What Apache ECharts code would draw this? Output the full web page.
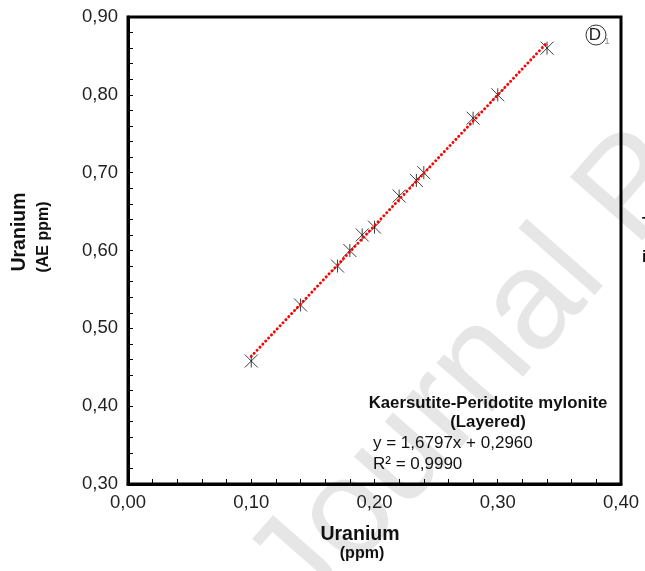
<!DOCTYPE html>
<html>
<head>
<meta charset="utf-8">
<script src="https://cdn.jsdelivr.net/npm/echarts@6/dist/echarts.min.js"></script>
<style>
  html, body { margin: 0; padding: 0; background: #fff; }
  #chart { width: 645px; height: 571px; }
</style>
</head>
<body>
<div id="chart"></div>
<script>
// Uranium: conventional ppm (x) against AE ppm (y)
const uraniumPpm   = [0.10, 0.14, 0.17, 0.18, 0.19, 0.20, 0.22, 0.234, 0.24, 0.28, 0.30, 0.34];
const uraniumAePpm = [0.458, 0.53, 0.58, 0.60, 0.62, 0.63, 0.67, 0.69, 0.70, 0.77, 0.80, 0.86];

// Linear fit reported on the chart
const fitSlope = 1.6797;
const fitIntercept = 0.2960;
const fitR2 = 0.9990;

const xTicks = [0.00, 0.10, 0.20, 0.30, 0.40];
const yTicks = [0.30, 0.40, 0.50, 0.60, 0.70, 0.80, 0.90];

const FONT = 'Arial, "Liberation Sans", sans-serif';
const comma = v => v.toFixed(2).replace('.', ',');
const commaN = (v, d) => v.toFixed(d).replace('.', ',');

const points = uraniumPpm.map((x, i) => [x, uraniumAePpm[i]]);
const xMin = Math.min(...uraniumPpm), xMax = Math.max(...uraniumPpm);
const fitLine = [[xMin, fitSlope * xMin + fitIntercept], [xMax, fitSlope * xMax + fitIntercept]];

// asterisk-like marker: an X crossed by a vertical stroke
const starMarker = 'path://M0,0L10,10M10,0L0,10M5,0L5,10';

const chart = echarts.init(document.getElementById('chart'), null, { renderer: 'canvas' });

const axisCommon = {
  type: 'value',
  axisLine: { show: true, onZero: false, lineStyle: { color: '#000', width: 3 } },
  axisTick: { show: true, inside: true, length: 5, lineStyle: { color: '#000', width: 1 } },
  minorTick: { show: true, splitNumber: 5, length: 5, lineStyle: { color: '#000', width: 1 } },
  splitLine: { show: false },
  axisLabel: { color: '#222', fontFamily: FONT, fontSize: 18.5, formatter: v => comma(v) }
};

chart.setOption({
  animation: false,
  backgroundColor: '#fff',
  grid: { left: 128, right: 24, top: 17, bottom: 87, show: true, borderColor: '#000', borderWidth: 3 },
  xAxis: Object.assign({}, axisCommon, {
    min: xTicks[0], max: xTicks[xTicks.length - 1], interval: 0.1,
    axisLabel: Object.assign({}, axisCommon.axisLabel, { margin: 9 })
  }),
  yAxis: Object.assign({}, axisCommon, {
    min: yTicks[0], max: yTicks[yTicks.length - 1], interval: 0.1,
    axisLabel: Object.assign({}, axisCommon.axisLabel, { margin: 10 })
  }),
  series: [
    {
      type: 'scatter',
      data: points,
      symbol: starMarker,
      symbolSize: 13,
      itemStyle: { color: 'transparent', borderColor: '#111', borderWidth: 1 },
      z: 3
    },
    {
      type: 'line',
      data: fitLine,
      showSymbol: false,
      symbol: 'none',
      lineStyle: { color: '#ff0000', width: 2.9, type: [0.1, 4.1], cap: 'round' },
      z: 4
    }
  ],
  graphic: [
    // faint diagonal watermark behind the plot
    {
      type: 'text', x: 277, y: 598, rotation: 0.85, z: -10, silent: true,
      style: { text: 'Journal Pre-proof', fill: '#e6e6e6', font: '140px ' + FONT,
               textAlign: 'left', textVerticalAlign: 'middle' }
    },
    // axis titles
    {
      type: 'text', x: 20, y: 232, rotation: Math.PI / 2, z: 10,
      style: { text: 'Uranium', fill: '#111', font: 'bold 19.5px ' + FONT, textAlign: 'center', textVerticalAlign: 'middle' }
    },
    {
      type: 'text', x: 44, y: 237, rotation: Math.PI / 2, z: 10,
      style: { text: '(AE ppm)', fill: '#111', font: 'bold 16px ' + FONT, textAlign: 'center', textVerticalAlign: 'middle' }
    },
    {
      type: 'text', x: 360, y: 535, z: 10,
      style: { text: 'Uranium', fill: '#111', font: 'bold 19.5px ' + FONT, textAlign: 'center', textVerticalAlign: 'middle' }
    },
    {
      type: 'text', x: 362, y: 554, z: 10,
      style: { text: '(ppm)', fill: '#111', font: 'bold 16px ' + FONT, textAlign: 'center', textVerticalAlign: 'middle' }
    },
    // fit annotation
    {
      type: 'text', x: 488, y: 403, z: 10,
      style: { text: 'Kaersutite-Peridotite mylonite', fill: '#111', font: 'bold 16.8px ' + FONT, textAlign: 'center', textVerticalAlign: 'middle' }
    },
    {
      type: 'text', x: 488, y: 422, z: 10,
      style: { text: '(Layered)', fill: '#111', font: 'bold 16.8px ' + FONT, textAlign: 'center', textVerticalAlign: 'middle' }
    },
    {
      type: 'text', x: 373, y: 443, z: 10,
      style: { text: 'y = ' + commaN(fitSlope, 4) + 'x + ' + commaN(fitIntercept, 4), fill: '#111', font: '17px ' + FONT, textAlign: 'left', textVerticalAlign: 'middle' }
    },
    {
      type: 'text', x: 373, y: 464, z: 10,
      style: { text: 'R² = ' + commaN(fitR2, 4), fill: '#111', font: '17px ' + FONT, textAlign: 'left', textVerticalAlign: 'middle' }
    },
    // panel tag
    {
      type: 'circle', shape: { cx: 596, cy: 35, r: 10 }, z: 10,
      style: { fill: 'none', stroke: '#333', lineWidth: 1 }
    },
    {
      type: 'text', x: 595, y: 35, z: 11,
      style: { text: 'D', fill: '#222', font: '17px ' + FONT, textAlign: 'center', textVerticalAlign: 'middle' }
    },
    {
      type: 'text', x: 607, y: 42, z: 11,
      style: { text: '1', fill: '#888', font: '9px ' + FONT, textAlign: 'center', textVerticalAlign: 'middle' }
    },
    // neighbouring page text clipped at the right edge
    {
      type: 'text', x: 642, y: 233, z: 10,
      style: { text: 'T', fill: '#111', font: 'bold 16px ' + FONT, textAlign: 'left', textVerticalAlign: 'bottom' }
    },
    {
      type: 'text', x: 642, y: 266, z: 10,
      style: { text: 'i', fill: '#111', font: 'bold 16px ' + FONT, textAlign: 'left', textVerticalAlign: 'bottom' }
    }
  ]
});
</script>
</body>
</html>
